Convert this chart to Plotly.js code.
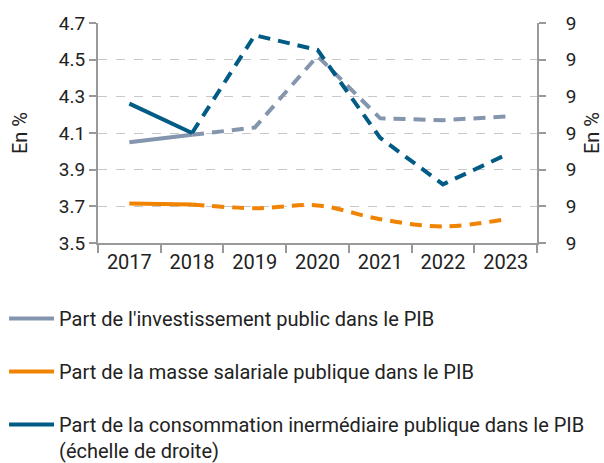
<!DOCTYPE html>
<html><head><meta charset="utf-8">
<script src="https://cdn.plot.ly/plotly-3.0.1.min.js"></script>
<style>html,body{margin:0;padding:0;background:#fff}#chart{width:604px;height:463px}</style>
</head><body><div id="chart"></div>
<script>
const years = ["2017","2018","2019","2020","2021","2022","2023"];
const investissement = [4.05, 4.09, 4.13, 4.52, 4.18, 4.17, 4.19];
const masseSalariale = [3.715, 3.71, 3.69, 3.705, 3.63, 3.59, 3.63];
const consoIntermediaire = [9.12, 9.00, 9.40, 9.34, 8.98, 8.79, 8.91];
const seriesNames = [
  "Part de l'investissement public dans le PIB",
  "Part de la masse salariale publique dans le PIB",
  "Part de la consommation inermédiaire publique dans le PIB<br>(échelle de droite)"
];
const leftTickVals = [3.5, 3.7, 3.9, 4.1, 4.3, 4.5, 4.7];
const leftTickText = ["3.5", "3.7", "3.9", "4.1", "4.3", "4.5", "4.7"];
const rightTickVals = [8.55, 8.70, 8.85, 9.00, 9.15, 9.30, 9.45];
const rightTickText = ["9", "9", "9", "9", "9", "9", "9"];
const lastObserved = 1; // solid up to 2018, dashed afterwards

const colors = ["#8495ae", "#f08300", "#005b85"];
const solidPart = arr => arr.map((v, i) => i <= lastObserved ? v : null);
const dashedPart = arr => arr.map((v, i) => i >= lastObserved ? v : null);

const series = [
  {y: investissement, axis: "y", shape: "linear"},
  {y: masseSalariale, axis: "y", shape: "spline"},
  {y: consoIntermediaire, axis: "y2", shape: "linear"}
];

const traces = [];
series.forEach((s, k) => {
  traces.push({
    x: years, y: solidPart(s.y), yaxis: s.axis, type: "scatter", mode: "lines",
    name: seriesNames[k], legendgroup: "g" + k, showlegend: true,
    line: {color: colors[k], width: 4, shape: s.shape},
    hoverinfo: "skip"
  });
  traces.push({
    x: years, y: dashedPart(s.y), yaxis: s.axis, type: "scatter", mode: "lines",
    name: seriesNames[k], legendgroup: "g" + k, showlegend: false,
    line: {color: colors[k], width: 4, dash: "12px,8px", shape: s.shape},
    hoverinfo: "skip"
  });
});

const tickFont = {family: "Roboto, sans-serif", size: 19, color: "#222"};
const titleFont = {family: "Roboto, sans-serif", size: 20, color: "#222"};
const layout = {
  width: 604, height: 463,
  margin: {l: 98, r: 67, t: 23, b: 220, autoexpand: false},
  paper_bgcolor: "#fff", plot_bgcolor: "#fff",
  showlegend: true,
  xaxis: {
    type: "category", tickson: "boundaries", ticks: "outside", ticklen: 8,
    tickcolor: "#999", tickwidth: 2, showline: true, linecolor: "#999", linewidth: 2,
    showgrid: false, zeroline: false,
    tickfont: {family: "Roboto, sans-serif", size: 20, color: "#222"},
    range: [-0.5, 6.5]
  },
  yaxis: {
    range: [3.5, 4.7], tickvals: leftTickVals, ticktext: leftTickText,
    ticks: "outside", ticklen: 7, tickcolor: "#999", tickwidth: 2,
    showline: true, linecolor: "#999", linewidth: 2,
    showgrid: true, gridcolor: "#c8c8c8", griddash: "dash", gridwidth: 1,
    zeroline: false, tickfont: tickFont,
    title: {text: "En %", font: titleFont, standoff: 26}
  },
  yaxis2: {
    overlaying: "y", side: "right",
    range: [8.55, 9.45], tickvals: rightTickVals, ticktext: rightTickText,
    ticks: "outside", ticklen: 7, tickcolor: "#999", tickwidth: 2,
    showline: true, linecolor: "#999", linewidth: 2, ticklabelstandoff: 16,
    showgrid: false, zeroline: false, tickfont: tickFont,
    title: {text: "En %", font: titleFont, standoff: 12}
  },
  legend: {
    x: -0.214, y: -0.2545,
    xanchor: "left", yanchor: "top", orientation: "v",
    traceorder: "grouped", tracegroupgap: 24, valign: "top", itemwidth: 45,
    font: {family: "Roboto, sans-serif", size: 20, color: "#222"},
    bgcolor: "rgba(0,0,0,0)"
  }
};

Plotly.newPlot("chart", traces, layout, {displayModeBar: false, staticPlot: true});
</script>
</body></html>
